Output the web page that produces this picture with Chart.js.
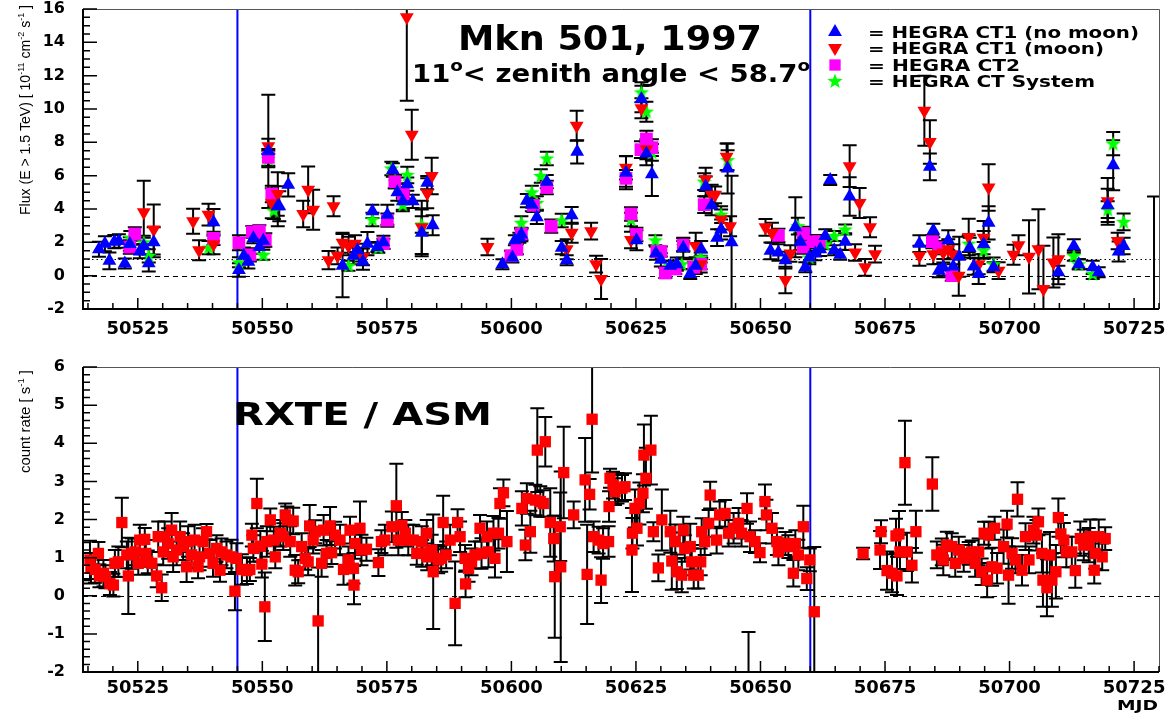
<!DOCTYPE html>
<html>
<head>
<meta charset="utf-8">
<script src="https://cdn.jsdelivr.net/npm/chart.js@4.4.0/dist/chart.umd.min.js"></script>
<style>
html, body { margin: 0; padding: 0; background: #fff; }
#top { position: absolute; left: 0; top: 0; width: 1173px; height: 340px; }
#bottom { position: absolute; left: 0; top: 340px; width: 1173px; height: 377px; }
</style>
</head>
<body>
<div id="top"><canvas id="c1"></canvas></div>
<div id="bottom"><canvas id="c2"></canvas></div>
<script>
// axis ticks / reference marks
const xTicks = [50525, 50550, 50575, 50600, 50625, 50650, 50675, 50700, 50725];
const yTicksTop = [-2, 0, 2, 4, 6, 8, 10, 12, 14, 16];
const yTicksBottom = [-2, -1, 0, 1, 2, 3, 4, 5, 6];
const markerLines = [50545, 50660];
const legendLabels = ['= HEGRA CT1 (no moon)', '= HEGRA CT1 (moon)', '= HEGRA CT2', '= HEGRA CT System'];

// HEGRA flux points: [MJD, flux, error]
const ct1NoMoon = [[50517.2,1.58,0.45],[50518.4,1.92,0.45],[50519.3,0.89,0.5],[50520.3,2.04,0.4],[50521.2,2.08,0.4],[50522.4,0.73,0.3],[50523.4,1.9,0.4],[50525.4,1.45,0.4],[50526.2,1.78,0.5],[50527.2,0.75,0.5],[50528.2,2.0,0.9],[50540.2,3.2,0.8],[50545.3,0.34,0.4],[50546.3,1.19,0.5],[50547.2,0.83,0.4],[50548.2,2.24,0.3],[50549.4,1.72,0.4],[50550.2,2.1,0.4],[50551.2,7.46,3.4],[50553.1,4.16,1.2],[50553.4,4.16,0.9],[50555.2,5.45,0.7],[50566.1,0.6,1.9],[50568.3,1.19,0.5],[50569.1,1.52,0.4],[50570.2,0.85,0.5],[50571.1,1.92,0.7],[50572.1,3.86,0.4],[50573.1,1.72,0.3],[50574.3,2.0,0.4],[50575.1,3.66,0.6],[50576.2,6.34,0.4],[50577.1,5.0,0.5],[50578.2,4.46,0.5],[50579.1,5.49,0.4],[50580.2,4.46,0.4],[50582.0,2.57,1.4],[50583.1,5.58,0.4],[50584.2,3.03,0.6],[50598.2,0.69,0.3],[50600.2,1.09,0.3],[50600.7,2.12,0.3],[50601.6,2.28,0.3],[50602.0,2.47,0.4],[50603.1,4.5,0.4],[50604.1,4.26,0.4],[50605.1,3.5,0.4],[50607.1,5.64,0.4],[50610.1,1.68,0.4],[50611.1,0.93,0.3],[50612.1,3.62,0.5],[50613.2,7.43,0.7],[50623.0,6.18,1.0],[50625.1,2.12,0.6],[50626.1,10.6,0.8],[50627.1,7.33,0.7],[50628.2,6.08,1.3],[50629.0,1.35,0.4],[50630.0,0.95,0.4],[50631.9,0.59,0.3],[50633.2,0.69,0.4],[50634.5,1.68,0.6],[50635.9,0.1,0.3],[50637.0,0.6,0.5],[50638.1,1.58,0.5],[50639.0,5.35,0.6],[50640.2,4.22,0.6],[50641.3,2.28,0.5],[50642.1,2.77,0.6],[50643.4,6.43,1.5],[50644.2,2.0,4.0],[50652.0,1.49,0.5],[50653.6,1.39,0.5],[50655.0,0.93,0.5],[50657.0,2.91,1.8],[50658.0,2.04,0.5],[50659.0,0.5,0.3],[50659.8,1.09,0.4],[50661.0,1.33,0.4],[50662.0,1.58,0.4],[50663.0,2.38,0.4],[50664.0,5.74,0.3],[50664.8,1.52,0.3],[50666.0,1.25,0.3],[50667.0,2.04,0.5],[50667.9,4.75,1.15],[50681.9,1.92,0.5],[50684.0,6.53,0.8],[50684.7,2.71,0.4],[50685.8,0.3,0.4],[50686.7,0.5,0.5],[50687.7,2.12,0.6],[50688.7,0.55,0.5],[50689.9,1.13,1.2],[50692.0,1.68,0.6],[50692.8,0.55,0.5],[50693.8,0.1,0.6],[50694.8,1.88,0.8],[50695.8,3.17,1.0],[50696.8,0.5,0.3],[50709.8,0.2,0.4],[50712.9,1.78,0.4],[50713.9,0.69,0.3],[50716.7,0.5,0.4],[50717.9,0.2,0.3],[50719.7,4.22,1.0],[50720.8,6.63,1.5],[50721.9,1.45,0.6],[50722.9,1.78,0.5]];

// last CT1 night: only its error bar shows in the frame
const ct1Late = [[50729.0,1.2,3.55]];

const ct1Moon = [[50526.2,3.8,1.9],[50528.2,2.77,1.5],[50536.1,3.27,0.75],[50537.3,1.52,0.6],[50539.2,3.66,0.65],[50540.2,1.88,0.6],[50551.2,7.76,0.45],[50551.9,4.34,0.9],[50553.1,4.9,1.3],[50558.2,3.7,0.8],[50559.2,5.15,1.4],[50560.2,3.96,1.2],[50563.3,0.93,0.55],[50564.3,4.16,0.6],[50565.1,1.19,0.5],[50566.1,1.98,0.6],[50567.3,1.78,0.55],[50568.6,1.92,0.5],[50570.2,1.13,0.5],[50579.0,15.5,5.0],[50580.0,8.46,1.5],[50582.0,2.9,1.6],[50583.1,4.95,0.9],[50584.0,5.98,1.1],[50595.2,1.72,0.5],[50611.1,1.58,0.6],[50612.1,2.57,0.6],[50613.1,9.0,0.9],[50616.0,2.67,0.5],[50617.0,0.69,0.5],[50618.0,-0.2,1.2],[50623.0,6.47,0.7],[50624.0,2.14,0.5],[50626.1,10.04,0.6],[50627.1,7.58,0.6],[50637.0,1.78,0.8],[50638.0,0.69,0.5],[50639.0,5.78,0.7],[50640.2,4.85,0.6],[50640.9,4.85,0.5],[50642.1,3.37,0.6],[50643.2,7.13,0.8],[50643.9,2.97,0.6],[50651.0,2.9,0.5],[50652.3,2.57,0.6],[50655.0,-0.26,0.8],[50656.0,1.33,0.5],[50667.9,6.57,1.25],[50669.0,1.39,0.5],[50669.9,4.36,0.9],[50671.0,0.5,0.5],[50672.0,2.91,0.6],[50673.0,1.29,0.5],[50681.9,1.19,0.6],[50682.9,9.9,2.1],[50684.0,8.02,1.3],[50684.7,1.29,0.6],[50686.7,1.39,0.6],[50687.7,1.58,0.6],[50688.7,1.29,0.6],[50689.8,0.0,1.2],[50691.8,2.32,1.1],[50693.8,0.69,0.6],[50694.8,2.28,1.0],[50695.8,5.29,1.4],[50697.8,0.3,0.5],[50700.8,1.25,0.6],[50701.8,1.82,0.6],[50703.9,1.13,2.2],[50705.8,1.58,2.4],[50706.8,-0.8,2.6],[50708.8,0.79,1.5],[50709.8,0.99,1.5],[50719.7,4.46,1.4],[50721.7,2.08,0.5]];

const ct2 = [[50523.4,1.72,0.4],[50524.4,2.5,0.4],[50540.2,2.24,0.4],[50545.3,1.98,0.45],[50547.5,1.25,0.4],[50548.0,2.63,0.35],[50549.4,2.67,0.35],[50550.6,2.14,0.4],[50551.2,7.1,0.5],[50551.9,4.9,0.5],[50574.3,1.92,0.3],[50575.1,3.33,0.4],[50576.6,5.64,0.4],[50578.3,4.9,0.4],[50599.9,1.19,0.3],[50601.1,1.58,0.3],[50602.0,2.51,0.35],[50604.4,4.22,0.4],[50607.1,5.29,0.4],[50608.0,2.97,0.4],[50623.0,5.84,0.5],[50624.0,3.7,0.4],[50625.1,2.47,0.4],[50626.0,7.56,0.5],[50627.1,8.2,0.5],[50628.2,7.68,0.5],[50629.2,1.45,0.3],[50630.0,1.45,0.3],[50630.9,0.16,0.3],[50632.9,0.4,0.3],[50634.5,1.84,0.4],[50636.6,0.5,0.3],[50638.0,0.69,0.3],[50638.7,4.26,0.5],[50653.6,2.42,0.4],[50658.6,2.53,0.4],[50658.6,1.72,0.4],[50660.6,2.04,0.4],[50661.8,2.04,0.4],[50684.5,2.04,0.4],[50685.8,1.68,0.4],[50688.4,0.0,0.3]];

const ctSystem = [[50523.5,2.28,0.4],[50526.2,2.0,0.4],[50527.2,1.19,0.4],[50539.2,1.68,0.4],[50545.3,0.8,0.3],[50550.2,1.25,0.3],[50551.2,7.0,0.5],[50552.3,3.9,0.5],[50567.3,0.6,0.3],[50569.4,1.25,0.4],[50572.1,3.37,0.4],[50573.3,1.68,0.3],[50575.9,6.43,0.4],[50576.6,5.64,0.4],[50578.2,4.26,0.4],[50579.1,6.04,0.5],[50582.0,3.07,0.5],[50602.0,3.17,0.4],[50604.1,5.0,0.4],[50605.1,4.36,0.4],[50605.9,5.98,0.4],[50607.1,7.03,0.4],[50610.1,3.31,0.4],[50624.0,3.37,0.4],[50626.1,11.0,0.6],[50627.1,9.84,0.6],[50628.2,7.4,0.5],[50628.9,2.12,0.3],[50631.9,0.59,0.3],[50634.2,0.69,0.3],[50634.5,1.78,0.3],[50636.6,0.69,0.3],[50638.0,1.09,0.3],[50638.7,5.64,0.5],[50642.1,3.66,0.5],[50643.4,6.93,0.6],[50657.5,2.97,0.5],[50659.8,1.09,0.3],[50663.0,1.88,0.3],[50664.8,2.38,0.3],[50667.0,2.77,0.3],[50691.8,1.92,0.5],[50694.8,1.52,0.5],[50696.8,0.69,0.4],[50712.9,1.19,0.3],[50713.9,0.69,0.3],[50716.7,0.1,0.3],[50719.7,3.96,0.5],[50720.8,7.92,0.7],[50722.9,3.23,0.5]];

// RXTE/ASM count rate: [MJD, rate, error]
const asm = [[50515.4,0.94,0.5],[50515.6,0.72,0.4],[50516.4,0.69,0.35],[50517.1,1.11,0.3],[50517.3,0.52,0.3],[50518.1,0.59,0.35],[50518.5,0.5,0.3],[50519.4,0.32,0.3],[50520.1,0.28,0.3],[50520.4,0.85,0.35],[50521.1,0.89,0.4],[50521.8,1.92,0.65],[50522.8,1.07,0.35],[50523.1,0.52,1.0],[50523.8,1.11,0.4],[50524.5,1.15,0.35],[50525.1,0.85,0.3],[50525.4,1.46,0.4],[50526.4,1.48,0.3],[50526.6,1.11,0.35],[50527.0,0.89,0.3],[50527.8,0.85,0.3],[50528.8,0.52,0.3],[50529.1,1.55,0.4],[50529.8,0.21,0.35],[50530.1,1.15,0.35],[50530.4,1.55,0.4],[50531.1,1.37,0.4],[50531.8,1.72,0.45],[50532.1,1.02,0.4],[50532.8,1.2,0.4],[50533.5,1.55,0.4],[50534.1,1.29,0.35],[50534.8,0.76,0.4],[50535.1,1.42,0.4],[50535.8,1.07,0.35],[50536.4,1.46,0.4],[50537.1,0.76,0.3],[50537.4,1.02,0.35],[50538.1,1.42,0.35],[50538.8,1.68,0.2],[50539.4,1.11,0.35],[50540.1,0.85,0.35],[50540.8,1.24,0.35],[50541.5,0.67,0.3],[50541.8,1.15,0.35],[50542.8,1.07,0.35],[50543.8,1.02,0.45],[50544.5,0.12,0.5],[50544.8,0.98,0.4],[50545.9,0.69,0.4],[50546.9,0.66,0.35],[50547.5,0.69,0.3],[50547.9,1.59,0.3],[50548.2,1.24,0.35],[50548.9,2.42,0.65],[50549.6,1.3,0.4],[50549.9,0.83,0.35],[50550.5,-0.29,0.9],[50550.9,1.42,0.4],[50551.6,1.99,0.3],[50552.6,1.02,0.3],[50552.3,1.46,0.35],[50553.6,1.64,0.35],[50554.2,1.55,0.35],[50554.6,2.12,0.3],[50555.0,1.99,0.35],[50555.6,1.42,0.4],[50556.2,1.96,0.35],[50556.6,0.67,0.4],[50557.2,0.63,0.3],[50557.9,1.29,0.35],[50558.6,0.98,0.3],[50559.2,0.89,0.35],[50559.5,1.83,0.55],[50560.2,1.46,0.35],[50560.6,1.68,0.3],[50561.2,-0.66,1.4],[50561.9,0.85,0.35],[50562.3,1.72,0.4],[50562.9,1.11,0.35],[50563.9,1.13,0.3],[50563.6,1.83,0.5],[50564.6,1.59,0.35],[50565.6,1.46,0.4],[50566.3,0.69,0.4],[50567.3,0.94,0.35],[50567.6,1.72,0.35],[50568.3,0.72,0.4],[50568.4,0.28,0.5],[50568.6,1.37,0.4],[50569.6,1.77,0.7],[50569.9,1.2,0.4],[50570.9,1.22,0.3],[50573.3,0.87,0.35],[50573.9,1.42,0.3],[50574.6,1.46,0.4],[50576.0,1.81,0.4],[50576.9,2.36,1.1],[50577.3,1.46,0.4],[50578.0,1.85,0.35],[50578.7,1.64,0.35],[50579.3,1.46,0.4],[50580.3,1.46,0.4],[50581.0,1.11,0.3],[50582.0,1.42,0.4],[50582.1,1.11,0.35],[50583.0,1.64,0.35],[50583.1,1.02,0.35],[50584.0,1.2,0.4],[50584.3,0.63,1.5],[50585.3,0.94,0.35],[50585.9,0.98,0.35],[50586.3,1.92,0.7],[50586.9,1.07,0.35],[50587.7,1.46,0.4],[50588.7,-0.2,1.1],[50589.2,1.92,0.35],[50589.7,1.55,0.4],[50590.7,0.98,0.35],[50590.8,0.31,0.35],[50591.4,0.72,0.35],[50592.0,0.89,0.35],[50592.7,1.07,0.35],[50593.7,1.77,0.35],[50594.0,1.11,0.4],[50595.1,1.55,0.4],[50595.4,1.15,0.4],[50596.4,1.64,0.45],[50596.7,0.98,0.5],[50597.4,1.64,0.4],[50597.7,2.42,0.4],[50598.4,2.7,0.35],[50599.1,1.42,0.8],[50602.1,2.29,0.45],[50602.8,1.33,0.4],[50603.1,2.55,0.4],[50603.8,1.68,0.55],[50604.8,2.51,0.4],[50605.2,3.82,1.1],[50605.8,2.47,0.4],[50606.4,2.42,0.35],[50606.8,4.04,0.65],[50607.8,1.92,0.9],[50608.5,1.5,0.6],[50608.7,0.5,1.6],[50609.8,1.81,0.9],[50609.9,0.76,2.5],[50610.5,3.23,1.2],[50612.5,2.12,0.35],[50614.8,3.04,1.1],[50615.2,0.56,1.3],[50615.7,2.66,0.4],[50616.2,4.63,1.4],[50616.5,1.55,0.4],[50617.5,1.46,0.35],[50618.0,0.41,0.6],[50618.4,1.37,0.4],[50619.5,1.42,0.4],[50619.6,2.34,0.4],[50619.8,3.08,0.25],[50620.4,2.9,0.35],[50620.8,2.73,0.35],[50621.3,2.82,0.4],[50622.2,2.82,0.35],[50622.8,2.86,0.35],[50624.2,1.2,1.1],[50624.3,1.64,0.4],[50624.8,2.29,0.5],[50625.2,1.77,0.45],[50625.7,2.42,0.55],[50626.4,2.69,0.5],[50626.6,3.69,0.8],[50627.0,3.08,0.8],[50628.0,3.82,0.9],[50628.5,1.68,0.25],[50629.5,0.73,0.35],[50630.2,1.99,0.8],[50631.9,1.68,0.55],[50632.2,0.91,0.75],[50632.9,1.42,0.45],[50633.2,0.63,0.45],[50634.2,0.54,0.45],[50634.5,1.72,0.35],[50634.8,1.24,0.35],[50635.9,1.29,0.6],[50636.2,0.89,0.35],[50636.6,0.54,0.35],[50637.5,0.54,0.35],[50638.0,0.89,0.35],[50638.2,1.68,0.35],[50638.8,1.42,0.35],[50639.9,2.64,0.35],[50639.6,1.9,0.35],[50641.2,1.46,0.35],[50641.8,2.12,0.35],[50642.9,2.16,0.35],[50643.6,1.64,0.35],[50644.6,1.77,0.4],[50645.6,1.9,0.4],[50646.2,1.64,0.35],[50647.3,2.29,0.4],[50647.6,-3.0,2.05],[50647.9,1.55,0.4],[50648.9,1.42,0.3],[50649.9,1.13,0.25],[50650.9,2.47,0.45],[50651.2,2.12,0.4],[50652.3,1.77,0.4],[50653.3,1.42,0.35],[50653.6,1.15,0.35],[50655.0,1.37,0.3],[50655.6,1.29,0.3],[50656.6,0.59,0.35],[50657.0,1.37,0.35],[50657.6,1.07,0.4],[50658.6,1.81,0.55],[50659.3,0.45,0.3],[50659.9,0.94,0.3],[50660.8,-0.42,1.7],[50670.6,1.11,0.15],[50674.0,1.2,0.5],[50674.2,1.68,0.3],[50675.4,0.66,0.5],[50676.4,0.59,0.5],[50677.4,0.52,0.5],[50677.2,1.57,0.45],[50677.8,1.62,0.6],[50678.0,1.15,0.45],[50679.0,3.49,1.1],[50679.4,1.15,0.5],[50680.4,0.8,0.45],[50681.2,1.68,0.55],[50684.5,2.93,0.7],[50685.4,1.07,0.35],[50686.4,1.15,0.35],[50686.7,0.94,0.4],[50687.4,1.33,0.35],[50688.4,1.29,0.35],[50689.1,0.85,0.35],[50689.8,1.2,0.35],[50690.8,0.98,0.35],[50691.8,1.11,0.3],[50692.4,1.15,0.3],[50693.1,0.85,0.35],[50693.8,1.15,0.35],[50694.4,0.63,0.35],[50694.9,1.64,0.3],[50695.5,0.41,0.45],[50695.8,1.59,0.35],[50696.5,0.76,0.5],[50697.0,1.77,0.3],[50697.5,0.72,0.4],[50698.8,1.29,0.45],[50699.5,1.88,0.35],[50699.8,0.54,0.75],[50700.5,1.11,0.4],[50701.2,0.94,0.35],[50701.6,2.53,0.45],[50702.5,0.67,0.4],[50703.2,1.55,0.35],[50703.9,0.94,0.35],[50704.8,1.72,0.35],[50705.8,1.94,0.35],[50705.4,1.59,0.4],[50706.5,1.11,0.5],[50706.7,0.41,0.7],[50707.5,0.21,0.75],[50708.1,1.07,0.6],[50708.5,0.41,0.7],[50709.3,0.63,0.7],[50709.8,2.05,0.5],[50710.3,1.62,0.5],[50710.9,1.46,0.45],[50711.4,1.15,0.4],[50712.5,1.15,0.4],[50713.2,0.66,0.45],[50714.2,1.5,0.45],[50714.9,1.33,0.4],[50715.9,1.33,0.45],[50716.2,1.55,0.45],[50717.0,0.67,0.35],[50717.2,1.11,0.4],[50717.9,1.55,0.45],[50718.6,1.02,0.35],[50719.2,1.5,0.3]];

const toPts = arr => arr.map(([x, y, e]) => ({x, y, e}));

// filled green star for the CT System points
const star = document.createElement('canvas');
star.width = 16; star.height = 16;
(function () {
    const c = star.getContext('2d');
    c.fillStyle = '#00ff00';
    c.beginPath();
    for (let i = 0; i < 10; i++) {
        const r = i % 2 === 0 ? 8 : 3.3;
        const a = -Math.PI / 2 + i * Math.PI / 5;
        const px = 8 + r * Math.cos(a), py = 8.5 + r * Math.sin(a);
        if (i === 0) c.moveTo(px, py); else c.lineTo(px, py);
    }
    c.closePath();
    c.fill();
})();

const BOLD = 'DejaVu Sans';
const PLAIN = 'Liberation Sans';

// text with superscripts, squeezed/stretched to a target width
function drawRich(ctx, parts, x, y, size, weight, family, width, rotate) {
    const font = sup => `${weight} ${sup ? Math.round(size * 0.65) : size}px "${family}"`;
    let total = 0;
    parts.forEach(p => { ctx.font = font(p.sup); total += ctx.measureText(p.t).width; });
    ctx.save();
    ctx.translate(x, y);
    if (rotate) ctx.rotate(-Math.PI / 2);
    ctx.scale(width / total, 1);
    ctx.fillStyle = '#000';
    ctx.textBaseline = 'alphabetic';
    ctx.textAlign = 'left';
    let cx = 0;
    parts.forEach(p => {
        ctx.font = font(p.sup);
        ctx.fillText(p.t, cx, p.sup ? -size * 0.45 : 0);
        cx += ctx.measureText(p.t).width;
    });
    ctx.restore();
}

function drawErrorBars(chart) {
    const {ctx, chartArea: a, scales: {x, y}} = chart;
    ctx.save();
    ctx.beginPath();
    ctx.rect(a.left, a.top, a.right - a.left, a.bottom - a.top);
    ctx.clip();
    ctx.strokeStyle = '#000';
    ctx.lineWidth = 2;
    chart.data.datasets.forEach(ds => {
        ds.data.forEach(p => {
            const px = x.getPixelForValue(p.x);
            const lo = y.getPixelForValue(p.y - p.e);
            const hi = y.getPixelForValue(p.y + p.e);
            ctx.beginPath();
            ctx.moveTo(px, lo); ctx.lineTo(px, hi);
            ctx.moveTo(px - 7, lo); ctx.lineTo(px + 7, lo);
            ctx.moveTo(px - 7, hi); ctx.lineTo(px + 7, hi);
            ctx.stroke();
        });
    });
    ctx.restore();
}

function drawRefLines(chart, withDotted) {
    const {ctx, chartArea: a, scales: {x, y}} = chart;
    ctx.save();
    ctx.strokeStyle = '#000';
    ctx.lineWidth = 1;
    ctx.setLineDash([5, 4]);
    const y0 = Math.round(y.getPixelForValue(0)) + 0.5;
    ctx.beginPath(); ctx.moveTo(a.left, y0); ctx.lineTo(a.right, y0); ctx.stroke();
    if (withDotted) {
        ctx.setLineDash([1.5, 3]);
        const y1 = Math.round(y.getPixelForValue(1)) + 0.5;
        ctx.beginPath(); ctx.moveTo(a.left, y1); ctx.lineTo(a.right, y1); ctx.stroke();
    }
    ctx.setLineDash([]);
    ctx.strokeStyle = '#0000ff';
    ctx.lineWidth = 2;
    markerLines.forEach(m => {
        const px = x.getPixelForValue(m);
        ctx.beginPath(); ctx.moveTo(px, a.top); ctx.lineTo(px, a.bottom); ctx.stroke();
    });
    ctx.restore();
}

function drawFrame(chart, yMinor, yMajor) {
    const {ctx, chartArea: a, scales: {x, y}} = chart;
    ctx.save();
    ctx.strokeStyle = '#555';
    ctx.lineWidth = 1;
    ctx.beginPath();
    ctx.moveTo(a.left, a.top + 0.5); ctx.lineTo(a.right + 0.5, a.top + 0.5); ctx.lineTo(a.right + 0.5, a.bottom);
    ctx.stroke();
    ctx.strokeStyle = '#000';
    ctx.lineWidth = 2;
    ctx.beginPath();
    ctx.moveTo(a.left, a.top); ctx.lineTo(a.left, a.bottom); ctx.lineTo(a.right, a.bottom);
    ctx.stroke();
    ctx.lineWidth = 1.5;
    ctx.beginPath();
    for (let v = 50515; v <= 50730; v += 5) {
        const px = x.getPixelForValue(v);
        const len = v % 25 === 0 ? 11 : 6;
        ctx.moveTo(px, a.bottom); ctx.lineTo(px, a.bottom - len);
    }
    const n = Math.round((y.max - y.min) / yMinor);
    for (let i = 0; i <= n; i++) {
        const v = y.min + i * yMinor;
        const r = v / yMajor;
        const len = Math.abs(r - Math.round(r)) < 1e-6 ? 14 : 7;
        const py = y.getPixelForValue(v);
        ctx.moveTo(a.left, py); ctx.lineTo(a.left + len, py);
    }
    ctx.stroke();
    ctx.restore();
}

function axes(yMin, yMax, yTicks, xHeight, xPad) {
    return {
        x: {
            type: 'linear', min: 50514, max: 50730,
            grid: {display: false, drawTicks: false}, border: {display: false},
            afterBuildTicks: s => { s.ticks = xTicks.map(v => ({value: v})); },
            afterFit: s => { s.height = xHeight; s.paddingLeft = 0; s.paddingRight = 0; },
            ticks: {autoSkip: false, maxRotation: 0, padding: xPad, color: '#000',
                font: {family: BOLD, size: 18, weight: 'bold'}, callback: v => String(v)}
        },
        y: {
            type: 'linear', min: yMin, max: yMax,
            grid: {display: false, drawTicks: false}, border: {display: false},
            afterBuildTicks: s => { s.ticks = yTicks.map(v => ({value: v})); },
            afterFit: s => { s.width = 83; s.paddingTop = 0; s.paddingBottom = 0; },
            ticks: {autoSkip: false, padding: 18, color: '#000',
                font: {family: BOLD, size: 16, weight: 'bold'}, callback: v => String(v)}
        }
    };
}

const topPlugin = {
    id: 'topDecor',
    beforeDatasetsDraw(chart) {
        drawRefLines(chart, true);
        drawErrorBars(chart);
    },
    afterDatasetsDraw(chart) {
        const ctx = chart.ctx;
        drawFrame(chart, 0.5, 2);
        drawRich(ctx, [{t: 'Mkn 501, 1997'}], 458, 50, 34, 'bold', BOLD, 304);
        drawRich(ctx, [{t: '11'}, {t: 'o', sup: true}, {t: '< zenith angle < 58.7'}, {t: 'o', sup: true}], 412, 82, 24, 'bold', BOLD, 398);
        drawRich(ctx, [{t: 'Flux (E > 1.5 TeV) [ 10'}, {t: '-11', sup: true}, {t: ' cm'}, {t: '-2', sup: true}, {t: ' s'}, {t: '-1', sup: true}, {t: ' ]'}], 30, 215, 14, 'normal', PLAIN, 210, true);
        drawRich(ctx, [{t: 'MJD'}], 1117, 352, 14, 'bold', BOLD, 41);
        const styles = [
            {pointStyle: 'triangle', rotation: 0, color: '#0000ff'},
            {pointStyle: 'triangle', rotation: 180, color: '#ff0000'},
            {pointStyle: 'rect', rotation: 0, color: '#ff00ff'},
            {pointStyle: star, rotation: 0, color: '#00ff00'}
        ];
        const rows = [32, 48, 65, 81];
        const widths = [271, 236, 152, 227];
        legendLabels.forEach((lbl, i) => {
            ctx.save();
            ctx.fillStyle = styles[i].color;
            Chart.helpers.drawPoint(ctx, {pointStyle: styles[i].pointStyle, rotation: styles[i].rotation, radius: 8, borderWidth: 0}, 835, rows[i]);
            ctx.restore();
            drawRich(ctx, [{t: lbl}], 868, rows[i] + 6, 15, 'bold', BOLD, widths[i]);
        });
    }
};

const bottomPlugin = {
    id: 'bottomDecor',
    beforeDatasetsDraw(chart) {
        drawRefLines(chart, false);
        drawErrorBars(chart);
    },
    afterDatasetsDraw(chart) {
        const ctx = chart.ctx;
        drawFrame(chart, 0.2, 1);
        drawRich(ctx, [{t: 'RXTE / ASM'}], 233, 85, 32, 'bold', BOLD, 259);
        drawRich(ctx, [{t: 'count rate [ s'}, {t: '-1', sup: true}, {t: ' ]'}], 30, 133, 14, 'normal', PLAIN, 103, true);
        drawRich(ctx, [{t: 'MJD'}], 1117, 370, 14, 'bold', BOLD, 41);
    }
};

const common = {
    responsive: true, maintainAspectRatio: false, animation: false, devicePixelRatio: 1, events: [],
    plugins: {legend: {display: false}, tooltip: {enabled: false}}
};

new Chart(document.getElementById('c1'), {
    type: 'scatter',
    data: {
        datasets: [
            {data: toPts(ct1NoMoon), pointStyle: 'triangle', pointRadius: 8, pointBorderWidth: 0,
                backgroundColor: '#0000ff', borderColor: '#0000ff'},
            {data: toPts(ct1Moon), pointStyle: 'triangle', pointRotation: 180, pointRadius: 8, pointBorderWidth: 0,
                backgroundColor: '#ff0000', borderColor: '#ff0000'},
            {data: toPts(ct2), pointStyle: 'rect', pointRadius: 9, pointBorderWidth: 0,
                backgroundColor: '#ff00ff', borderColor: '#ff00ff'},
            {data: toPts(ctSystem), pointStyle: star, pointRadius: 8, pointBorderWidth: 0,
                backgroundColor: '#00ff00', borderColor: '#00ff00'},
            {data: toPts(ct1Late), pointRadius: 0, pointBorderWidth: 0,
                backgroundColor: '#0000ff', borderColor: '#0000ff'}
        ]
    },
    options: Object.assign({}, common, {
        layout: {padding: {top: 5, right: 14, left: 0, bottom: 0}},
        scales: axes(-2, 16, yTicksTop, 31, 10)
    }),
    plugins: [topPlugin]
});

new Chart(document.getElementById('c2'), {
    type: 'scatter',
    data: {
        datasets: [
            {data: toPts(asm), pointStyle: 'rect', pointRadius: 8, pointBorderWidth: 0,
                backgroundColor: '#ff0000', borderColor: '#ff0000'}
        ]
    },
    options: Object.assign({}, common, {
        layout: {padding: {top: 27, right: 14, left: 0, bottom: 0}},
        scales: axes(-2, 6, yTicksBottom, 45, 6)
    }),
    plugins: [bottomPlugin]
});
</script>
</body>
</html>
